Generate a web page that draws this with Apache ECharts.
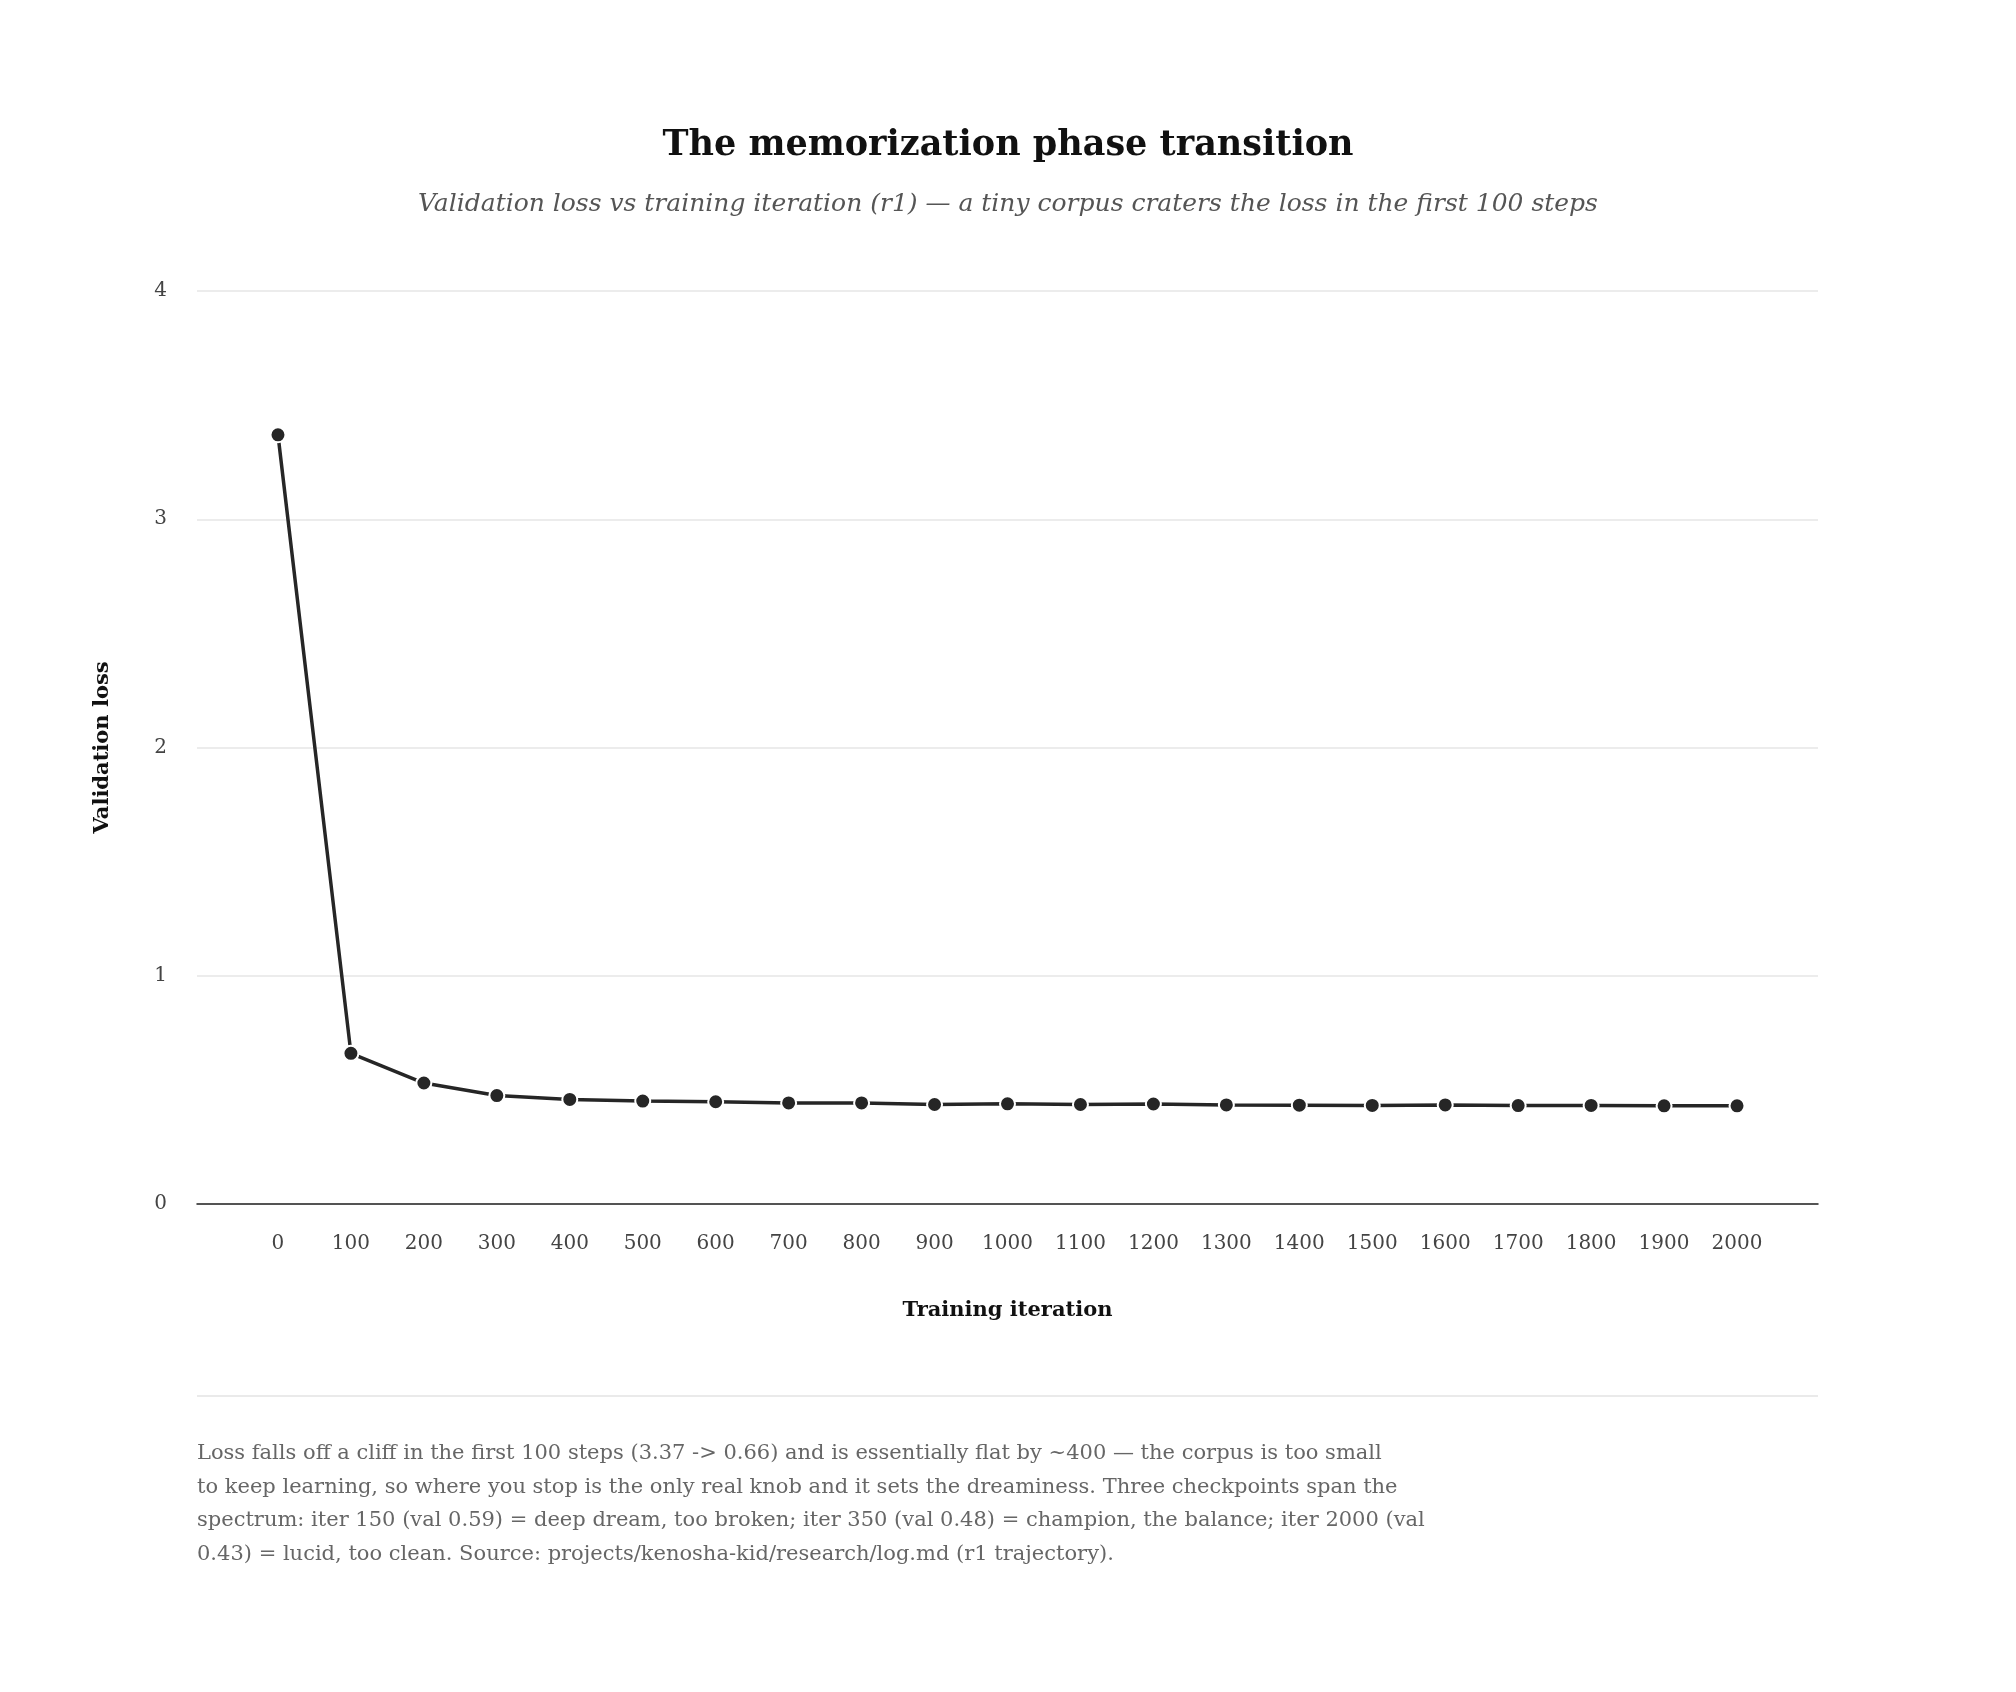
<!DOCTYPE html>
<html>
<head>
<meta charset="utf-8">
<script src="https://cdn.jsdelivr.net/npm/echarts@6/dist/echarts.min.js"></script>
<style>
  html, body { margin: 0; padding: 0; background: #fff; }
  #chart { width: 2016px; height: 1692px; }
</style>
</head>
<body>
<div id="chart"></div>
<script>
const FONT = 'DejaVu Serif, Liberation Serif, serif'

// validation loss per checkpoint (r1)
const iters = [0, 100, 200, 300, 400, 500, 600, 700, 800, 900, 1000, 1100, 1200, 1300, 1400, 1500, 1600, 1700, 1800, 1900, 2000]
const loss = [3.37, 0.66, 0.53, 0.475, 0.458, 0.451, 0.448, 0.443, 0.443, 0.436, 0.439, 0.436, 0.438, 0.434, 0.433, 0.432, 0.434, 0.431, 0.432, 0.43, 0.43]
const yTicks = [0, 1, 2, 3, 4]

const noteLines = [
  'Loss falls off a cliff in the first 100 steps (3.37 -> 0.66) and is essentially flat by ~400 — the corpus is too small',
  'to keep learning, so where you stop is the only real knob and it sets the dreaminess. Three checkpoints span the',
  'spectrum: iter 150 (val 0.59) = deep dream, too broken; iter 350 (val 0.48) = champion, the balance; iter 2000 (val',
  '0.43) = lucid, too clean. Source: projects/kenosha-kid/research/log.md (r1 trajectory).',
]

const chart = echarts.init(document.getElementById('chart'), null, { renderer: 'canvas' })
chart.setOption({
  animation: false,
  backgroundColor: '#fff',
  textStyle: { fontFamily: FONT },
  title: {
    text: 'The memorization phase transition',
    subtext: 'Validation loss vs training iteration (r1) — a tiny corpus craters the loss in the first 100 steps',
    left: 'center', top: 123, itemGap: 29,
    textStyle: { fontFamily: FONT, fontSize: 35, fontWeight: 'bold', color: '#111' },
    subtextStyle: { fontFamily: FONT, fontSize: 25, fontStyle: 'italic', color: '#555' },
  },
  grid: { left: 197, right: 198, top: 291, bottom: 488, containLabel: false },
  xAxis: {
    type: 'value', min: -111, max: 2111,
    name: 'Training iteration', nameLocation: 'middle', nameGap: 96,
    nameTextStyle: { fontFamily: FONT, fontSize: 21, fontWeight: 'bold', color: '#111' },
    axisLine: { show: true, onZero: false, lineStyle: { color: '#222', width: 1.5 } },
    axisTick: { show: false },
    splitLine: { show: false },
    axisLabel: { customValues: iters, margin: 30, fontFamily: FONT, fontSize: 20, color: '#444',
      formatter: (v) => String(v) },
  },
  yAxis: {
    type: 'value', min: 0, max: 4, interval: 1,
    name: 'Validation loss', nameLocation: 'middle', nameGap: 84, nameRotate: 90,
    nameTextStyle: { fontFamily: FONT, fontSize: 21, fontWeight: 'bold', color: '#111' },
    axisLine: { show: false },
    axisTick: { show: false },
    splitLine: { lineStyle: { color: '#e6e6e6', width: 1.5 } },
    axisLabel: { margin: 30, fontFamily: FONT, fontSize: 20, color: '#444',
      formatter: (v) => yTicks.includes(v) ? String(v) : '' },
  },
  series: [{
    type: 'line',
    data: iters.map((x, i) => [x, loss[i]]),
    symbol: 'circle', symbolSize: 15,
    lineStyle: { color: '#262626', width: 3.5 },
    itemStyle: { color: '#262626', borderColor: '#fff', borderWidth: 2 },
    z: 3,
  }],
  graphic: [
    { type: 'line', shape: { x1: 197, y1: 1396, x2: 1818, y2: 1396 }, style: { stroke: '#e3e3e3', lineWidth: 1.5 } },
    { type: 'text', left: 197, top: 1437,
      style: { text: noteLines.join('\n'), fontFamily: FONT, fontSize: 21, lineHeight: 33.5, fill: '#666' } },
  ],
})
</script>
</body>
</html>
